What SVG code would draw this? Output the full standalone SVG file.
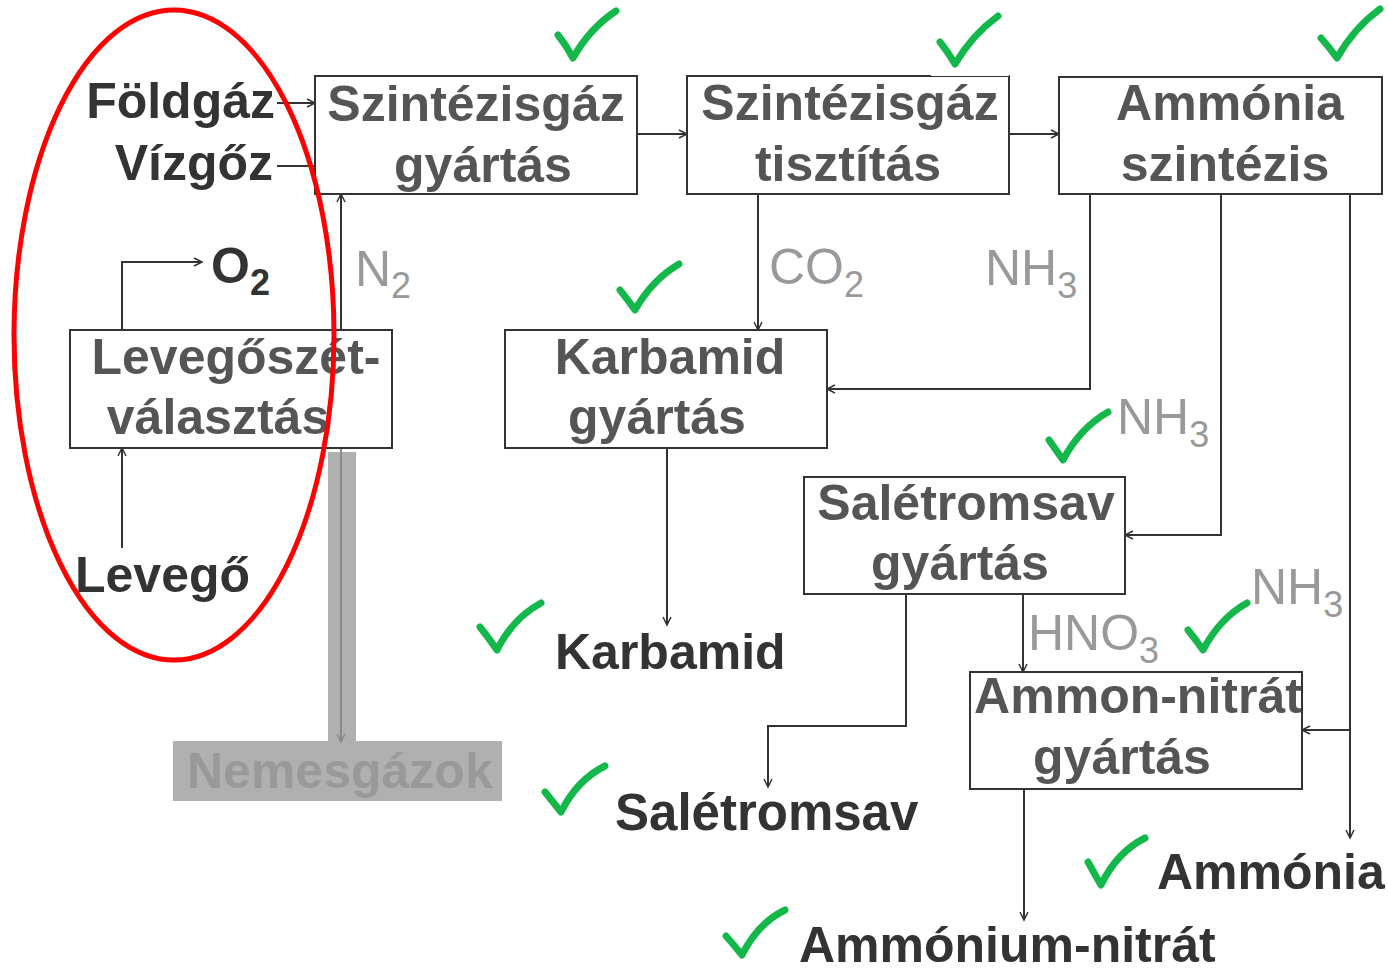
<svg xmlns="http://www.w3.org/2000/svg" width="1388" height="974" viewBox="0 0 1388 974">
  <defs>
    <marker id="arr" markerWidth="12" markerHeight="12" refX="9" refY="5" orient="auto" markerUnits="userSpaceOnUse">
      <path d="M1,1 L9,5 L1,9" fill="none" stroke="#333" stroke-width="1.5"/>
    </marker>
    <marker id="arrg" markerWidth="12" markerHeight="12" refX="9" refY="5" orient="auto" markerUnits="userSpaceOnUse">
      <path d="M1,1 L9,5 L1,9" fill="none" stroke="#8a8a8a" stroke-width="1.5"/>
    </marker>
    <style>
      .box rect { fill: #fff; stroke: #333; stroke-width: 2; }
      .bt { font-family: "Liberation Sans", Arial, sans-serif; font-weight: bold; font-size: 50px; fill: #555; text-anchor: middle; }
      .lab { font-family: "Liberation Sans", Arial, sans-serif; font-weight: bold; font-size: 50px; fill: #333; }
      .gas { font-family: "Liberation Sans", Arial, sans-serif; font-size: 50px; fill: #999; }
      .sub { font-size: 36px; }
      .conn path { fill: none; stroke: #333; stroke-width: 2; }
      .chk path { fill: none; stroke: #14b84a; stroke-width: 7; stroke-linecap: round; stroke-linejoin: round; }
    </style>
  </defs>
  <rect width="1388" height="974" fill="#fff"/>

  <!-- noble gas outlet band and label -->
  <g id="nemesgazok">
    <rect x="328" y="452" width="28" height="290" fill="#b0b0b0"/>
    <rect x="173" y="741" width="329" height="60" fill="#b0b0b0"/>
    <path d="M341,448 V742" fill="none" stroke="#8a8a8a" stroke-width="2" marker-end="url(#arrg)"/>
    <text x="187" y="788" class="lab" style="fill:#999">Nemesgázok</text>
  </g>

  <!-- connectors -->
  <g id="connectors" class="conn">
    <path d="M277,103 H315" marker-end="url(#arr)"/>
    <path d="M277,166 H315"/>
    <path d="M341,330 V194" marker-end="url(#arr)"/>
    <path d="M122,330 V262 H202" marker-end="url(#arr)"/>
    <path d="M122,548 V448" marker-end="url(#arr)"/>
    <path d="M637,134 H687" marker-end="url(#arr)"/>
    <path d="M1009,134 H1059" marker-end="url(#arr)"/>
    <path d="M758,194 V330" marker-end="url(#arr)"/>
    <path d="M1090,194 V389 H827" marker-end="url(#arr)"/>
    <path d="M1221,194 V535 H1125" marker-end="url(#arr)"/>
    <path d="M1350,194 V838" marker-end="url(#arr)"/>
    <path d="M1350,730 H1302" marker-end="url(#arr)"/>
    <path d="M667,448 V625" marker-end="url(#arr)"/>
    <path d="M906,594 V726 H768 V787" marker-end="url(#arr)"/>
    <path d="M1023,594 V672" marker-end="url(#arr)"/>
    <path d="M1024,789 V920" marker-end="url(#arr)"/>
  </g>

  <!-- process boxes -->
  <g id="szintezisgaz-gyartas" class="box">
    <rect x="315" y="76" width="322" height="118"/>
    <text x="476" y="121" class="bt">Szintézisgáz</text>
    <text x="483" y="182" class="bt">gyártás</text>
  </g>
  <g id="szintezisgaz-tisztitas" class="box">
    <rect x="687" y="76" width="322" height="118"/>
    <text x="850" y="120" class="bt">Szintézisgáz</text>
    <text x="848" y="181" class="bt">tisztítás</text>
  </g>
  <g id="ammonia-szintezis" class="box">
    <rect x="1059" y="77" width="323" height="117"/>
    <text x="1230" y="120" class="bt">Ammónia</text>
    <text x="1225" y="181" class="bt">szintézis</text>
  </g>
  <g id="levegoszetvalasztas" class="box">
    <rect x="70" y="330" width="322" height="118"/>
    <text x="236" y="374" class="bt">Levegőszét-</text>
    <text x="218" y="434" class="bt">választás</text>
  </g>
  <g id="karbamid-gyartas" class="box">
    <rect x="505" y="330" width="322" height="118"/>
    <text x="670" y="374" class="bt">Karbamid</text>
    <text x="657" y="434" class="bt">gyártás</text>
  </g>
  <g id="saletromsav-gyartas" class="box">
    <rect x="804" y="477" width="321" height="117"/>
    <text x="966" y="520" class="bt">Salétromsav</text>
    <text x="960" y="580" class="bt">gyártás</text>
  </g>
  <g id="ammon-nitrat-gyartas" class="box">
    <rect x="970" y="672" width="332" height="117"/>
    <text x="1138" y="713" class="bt">Ammon-nitrát</text>
    <text x="1122" y="774" class="bt">gyártás</text>
  </g>

  <!-- inputs -->
  <g id="foldgaz"><text x="275" y="118" class="lab" text-anchor="end">Földgáz</text></g>
  <g id="vizgoz"><text x="273" y="180" class="lab" text-anchor="end">Vízgőz</text></g>
  <g id="levego"><text x="75" y="592" class="lab">Levegő</text></g>
  <g id="o2"><text x="211" y="283" class="lab">O<tspan class="sub" dy="12">2</tspan></text></g>

  <!-- stream labels -->
  <g id="stream-labels">
    <text x="355" y="286" class="gas">N<tspan class="sub" dy="12">2</tspan></text>
    <text x="769" y="284" class="gas">CO<tspan class="sub" dy="13">2</tspan></text>
    <text x="985" y="285" class="gas">NH<tspan class="sub" dy="13">3</tspan></text>
    <text x="1117" y="434" class="gas">NH<tspan class="sub" dy="13">3</tspan></text>
    <text x="1251" y="604" class="gas">NH<tspan class="sub" dy="13">3</tspan></text>
    <text x="1028" y="650" class="gas">HNO<tspan class="sub" dy="13">3</tspan></text>
  </g>

  <!-- products -->
  <g id="karbamid"><text x="555" y="669" class="lab">Karbamid</text></g>
  <g id="saletromsav"><text x="615" y="830" class="lab" style="font-size:51px">Salétromsav</text></g>
  <g id="ammonia"><text x="1157" y="889" class="lab">Ammónia</text></g>
  <g id="ammonium-nitrat"><text x="799" y="962" class="lab">Ammónium-nitrát</text></g>

  <!-- top patch over the purification box border -->
  <rect x="931" y="60" width="78" height="16" fill="#fff"/>

  <!-- check marks -->
  <g id="checks" class="chk">
    <path d="M558,35 Q566,45 573,58 Q590,28 616,11"/>
    <path d="M940,42 Q948,52 955,64 Q972,35 998,16"/>
    <path d="M1321,38 Q1329,47 1337,58 Q1354,28 1380,9"/>
    <path d="M620,290 Q628,300 635,310 Q652,280 679,264"/>
    <path d="M1049,440 Q1056,450 1063,460 Q1080,428 1108,412"/>
    <path d="M1188,630 Q1196,640 1203,650 Q1220,618 1247,603"/>
    <path d="M480,627 Q488,637 497,650 Q513,618 541,603"/>
    <path d="M545,792 Q553,802 561,812 Q577,780 605,766"/>
    <path d="M1088,862 Q1094,873 1101,885 Q1117,852 1145,838"/>
    <path d="M726,936 Q734,945 742,955 Q758,923 785,910"/>
  </g>

  <!-- highlight ring around the air separation part -->
  <ellipse id="highlight" cx="174" cy="335" rx="160" ry="325" fill="none" stroke="#f00" stroke-width="5"/>
</svg>
